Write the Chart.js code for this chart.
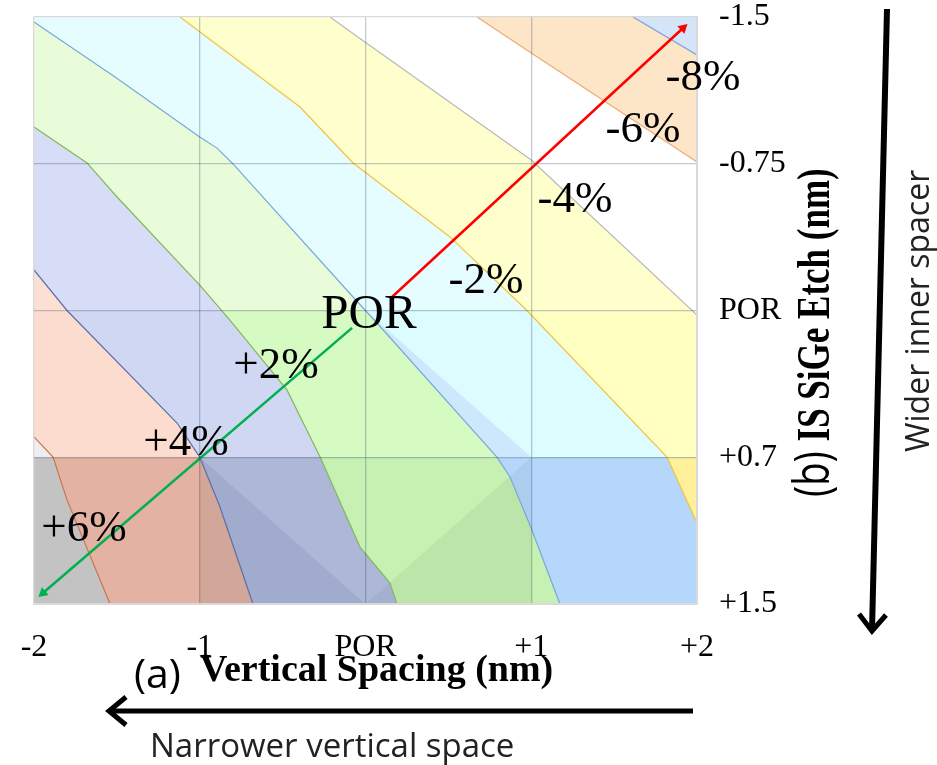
<!DOCTYPE html>
<html>
<head>
<meta charset="utf-8">
<script src="https://cdn.jsdelivr.net/npm/chart.js@4.4.1/dist/chart.umd.min.js"></script>
<style>
  html, body { margin: 0; padding: 0; background: #fff; }
</style>
</head>
<body>
<canvas id="contour" width="937" height="765"></canvas>
<script>
// axes
const xTicks = [-2, -1, 0, 1, 2];
const xTickLabels = ['-2', '-1', 'POR', '+1', '+2'];
const yTicks = [-1.5, -0.75, 0, 0.75, 1.5];
const yTickLabels = ['-1.5', '-0.75', 'POR', '+0.7', '+1.5'];

// contour lines, [vertical spacing, SiGe etch], bottom-left to top-right
const lineP6 = [[-2, 0.646], [-1.885, 0.749], [-1.801, 0.968], [-1.541, 1.5]];
const lineP4 = [[-2, -0.207], [-1.801, 0.0], [-1.137, 0.575], [-1.0, 0.749], [-0.878, 1.004], [-0.679, 1.5]];
const lineP2 = [[-2, -0.938], [-1.680, -0.754], [-1.499, -0.580], [-1.0, -0.130], [-0.818, 0.049],
                [-0.474, 0.406], [-0.274, 0.749], [-0.033, 1.209], [0.148, 1.393], [0.190, 1.5]];
const line0 = [[-2, -1.474], [-1.511, -1.193], [-1.0, -0.887], [-0.896, -0.830], [-0.805, -0.754],
               [-0.075, -0.069], [0.069, 0.064], [0.793, 0.749], [0.872, 0.851], [1.004, 1.122], [1.173, 1.5]];
const lineM2 = [[-1.119, -1.5], [-0.395, -1.040], [-0.075, -0.754], [0.510, -0.376], [0.974, 0.0],
                [1.819, 0.749], [2, 1.086]];
const lineM4 = [[-0.214, -1.5], [-0.063, -1.408], [1.0, -0.769], [2, 0.023]];
const lineM6 = [[0.673, -1.5], [1.0, -1.316], [2, -0.759]];
const lineM8 = [[1.614, -1.5], [2, -1.306]];

const contourLines = [lineP6, lineP4, lineP2, line0, lineM2, lineM4, lineM6, lineM8];
const lineColors = ['#c4794e', '#5b70a8', '#82b85c', '#78a8dc', '#f3c23e', '#b9b9b9', '#f0a878', '#7aa0dc'];

// band fills, one colour per horizontal strip (top, middle, bottom)
const strips = [[-1.5, 0], [0, 0.75], [0.75, 1.5]];
const bandColors = [
  ['#efefef', '#eeeeee', '#c3c3c3'],  // beyond +6%
  ['#fde0d4', '#fddcd0', '#e3b2a2'],  // +4..+6
  ['#d7ddf6', '#cfd7f2', '#adb8d9'],  // +2..+4
  ['#e9fcd9', '#d5fbc3', '#c6f1b2'],  // 0..+2
  ['#e5fdff', '#dcfcff', '#b4d7fb'],  // -2..0
  ['#ffffcd', '#ffffc2', '#fff19b'],  // -4..-2
  ['#ffffff', '#ffffff', '#ffffff'],  // -6..-4
  ['#fde6c8', '#fde6c8', '#fde6c8'],  // -8..-6
  ['#d5e5f9', '#d5e5f9', '#d5e5f9']   // below -8
];

// shading facets of the surface plot
const facetStrip = [[0, 0], [1, 0.75], [0.793, 0.749], [0.069, 0.064]];
const facetLowLeft = [[-1, 0.75], [0, 1.5], [-1, 1.5]];
const facetLowRight = [[0, 1.5], [1, 0.75], [1, 1.5]];

// trend arrows
const arrowMinus = [[0.160, -0.069], [1.916, -1.444]];
const arrowPlus = [[-0.081, 0.089], [-1.946, 1.444]];

// text labels on the map
const mapLabels = ['-8%', '-6%', '-4%', '-2%', 'POR', '+2%', '+4%', '+6%'];
const mapLabelAt = [[2.036, -1.204], [1.674, -0.938], [1.264, -0.580], [0.727, -0.166],
                    [0.021, 0.005], [-0.540, 0.268], [-1.083, 0.662], [-1.698, 1.101]];

// ---------- helpers ----------
function clipHalf(poly, inside, yc) {
  const res = [];
  for (let i = 0; i < poly.length; i++) {
    const a = poly[i], b = poly[(i + 1) % poly.length];
    const ina = inside(a), inb = inside(b);
    if (ina) res.push(a);
    if (ina !== inb) {
      const t = (yc - a[1]) / (b[1] - a[1]);
      res.push([a[0] + t * (b[0] - a[0]), yc]);
    }
  }
  return res;
}
function clipStrip(poly, lo, hi) {
  let out = clipHalf(poly, p => p[1] >= lo, lo);
  out = clipHalf(out, p => p[1] <= hi, hi);
  return out;
}
// region lying up-right of a contour line
function upRight(line) {
  const pts = line.slice();
  const s = line[0], e = line[line.length - 1];
  if (e[1] >= 1.5) pts.push([2, 1.5]);
  pts.push([2, -1.5]);
  if (s[0] <= -2) pts.push([-2, -1.5]);
  return pts;
}
const toXY = pts => pts.map(p => ({ x: p[0], y: p[1] }));

const layers = [];
function polyLayer(pts, color) {
  if (pts.length < 3) return;
  layers.push({
    data: toXY(pts), showLine: true, fill: 'shape', tension: 0,
    backgroundColor: color, borderColor: 'transparent', borderWidth: 0.01, pointRadius: 0
  });
}

const regions = [[[-2, -1.5], [2, -1.5], [2, 1.5], [-2, 1.5]]].concat(contourLines.map(upRight));
regions.forEach((reg, k) => {
  strips.forEach((st, j) => polyLayer(clipStrip(reg, st[0], st[1]), bandColors[k][j]));
});
polyLayer(facetStrip, '#cde8fd');
polyLayer(facetLowLeft, 'rgba(30,30,70,0.08)');
polyLayer(facetLowRight, 'rgba(30,60,30,0.06)');

contourLines.forEach((ln, k) => {
  layers.push({
    data: toXY(ln), showLine: true, fill: false, tension: 0,
    borderColor: lineColors[k], borderWidth: 1.2, pointRadius: 0
  });
});

function arrowRotation(c) {
  const d = c.dataset.data;
  const xs = c.chart.scales.x, ys = c.chart.scales.y;
  const dx = xs.getPixelForValue(d[1].x) - xs.getPixelForValue(d[0].x);
  const dy = ys.getPixelForValue(d[1].y) - ys.getPixelForValue(d[0].y);
  return Math.atan2(dx, -dy) * 180 / Math.PI;
}
[[arrowMinus, '#ff0000'], [arrowPlus, '#00b050']].forEach(([a, col]) => {
  layers.push({
    data: toXY(a), showLine: true, fill: false, tension: 0,
    borderColor: col, backgroundColor: col, borderWidth: 2.5,
    pointRadius: [0, 6], pointStyle: 'triangle', pointRotation: arrowRotation,
    pointBorderWidth: 0
  });
});

layers.forEach((ds, i) => { ds.order = layers.length - i; });

// ---------- text and side arrows ----------
const textPlugin = {
  id: 'texts',
  afterDraw(chart) {
    const ctx = chart.ctx;
    const xs = chart.scales.x, ys = chart.scales.y;
    ctx.save();
    ctx.fillStyle = '#000';
    ctx.textAlign = 'center';
    ctx.textBaseline = 'alphabetic';
    mapLabels.forEach((t, i) => {
      const size = t === 'POR' ? 49 : 45;
      ctx.font = size + 'px "Liberation Serif"';
      const px = xs.getPixelForValue(mapLabelAt[i][0]);
      const py = ys.getPixelForValue(mapLabelAt[i][1]);
      ctx.fillText(t, px, py + size * 0.34);
    });

    // x title
    ctx.textAlign = 'left';
    ctx.font = '41px "Open Sans"';
    ctx.fillText('(a)', 134, 688);
    ctx.font = 'bold 38px "Liberation Serif"';
    ctx.fillText('Vertical Spacing (nm)', 200, 681, 357);

    // bottom arrow
    ctx.strokeStyle = '#000';
    ctx.lineWidth = 5;
    ctx.beginPath();
    ctx.moveTo(693, 711);
    ctx.lineTo(110, 711);
    ctx.stroke();
    ctx.beginPath();
    ctx.moveTo(126, 697);
    ctx.lineTo(109, 711);
    ctx.lineTo(126, 725);
    ctx.stroke();

    ctx.fillStyle = '#222';
    ctx.font = '33px "Open Sans"';
    ctx.fillText('Narrower vertical space', 150, 757, 372);

    // y title, rotated
    ctx.save();
    ctx.translate(829, 497);
    ctx.rotate(-Math.PI / 2);
    ctx.scale(1, 1.3);
    ctx.fillStyle = '#000';
    ctx.font = '38px "Open Sans"';
    ctx.fillText('(b)', 0, 0);
    const w = ctx.measureText('(b) ').width;
    ctx.font = 'bold 35px "Liberation Serif"';
    ctx.fillText('IS SiGe Etch (nm)', w, 0, 332 - w);
    ctx.restore();

    // right arrow
    ctx.lineWidth = 6;
    ctx.beginPath();
    ctx.moveTo(887, 9);
    ctx.lineTo(872, 630);
    ctx.stroke();
    ctx.lineWidth = 5;
    ctx.beginPath();
    ctx.moveTo(859, 614);
    ctx.lineTo(872, 631);
    ctx.lineTo(886, 615);
    ctx.stroke();

    ctx.save();
    ctx.translate(929, 452);
    ctx.rotate(-Math.PI / 2);
    ctx.fillStyle = '#222';
    ctx.font = '32px "Open Sans"';
    ctx.fillText('Wider inner spacer', 0, 0, 355);
    ctx.restore();

    ctx.restore();
  }
};

const edgeGrey = '#d9d9d9';
new Chart(document.getElementById('contour'), {
  type: 'scatter',
  data: { datasets: layers },
  options: {
    responsive: false,
    animation: false,
    layout: { padding: { left: 34, top: 17, right: 0, bottom: 0 } },
    plugins: { legend: { display: false }, tooltip: { enabled: false } },
    scales: {
      x: {
        type: 'linear', min: -2, max: 2,
        afterBuildTicks: s => { s.ticks = xTicks.map(v => ({ value: v })); },
        afterFit: s => { s.height = 161; s.paddingLeft = 0; s.paddingRight = 0; },
        ticks: {
          autoSkip: false, maxRotation: 0, padding: 24, color: '#000',
          font: { family: 'Liberation Serif', size: 32 },
          callback: (v, i) => xTickLabels[i]
        },
        grid: {
          z: 1, drawTicks: false, lineWidth: 1.3,
          color: c => (c.tick && (c.tick.value === -2 || c.tick.value === 2)) ? edgeGrey : 'rgba(20,40,80,0.25)'
        },
        border: { color: edgeGrey, width: 2, z: 2 }
      },
      y: {
        type: 'linear', position: 'right', reverse: true, min: -1.5, max: 1.5,
        afterBuildTicks: s => { s.ticks = yTicks.map(v => ({ value: v })); },
        afterFit: s => { s.width = 240; s.paddingTop = 0; s.paddingBottom = 0; },
        ticks: {
          autoSkip: false, padding: 22, color: '#000',
          font: { family: 'Liberation Serif', size: 32 },
          callback: (v, i) => yTickLabels[i]
        },
        grid: {
          z: 1, drawTicks: false, lineWidth: 1.3,
          color: c => (c.tick && (c.tick.value === -1.5 || c.tick.value === 1.5)) ? edgeGrey : 'rgba(20,40,80,0.25)'
        },
        border: { color: edgeGrey, width: 2, z: 2 }
      }
    }
  },
  plugins: [textPlugin]
});
</script>
</body>
</html>
